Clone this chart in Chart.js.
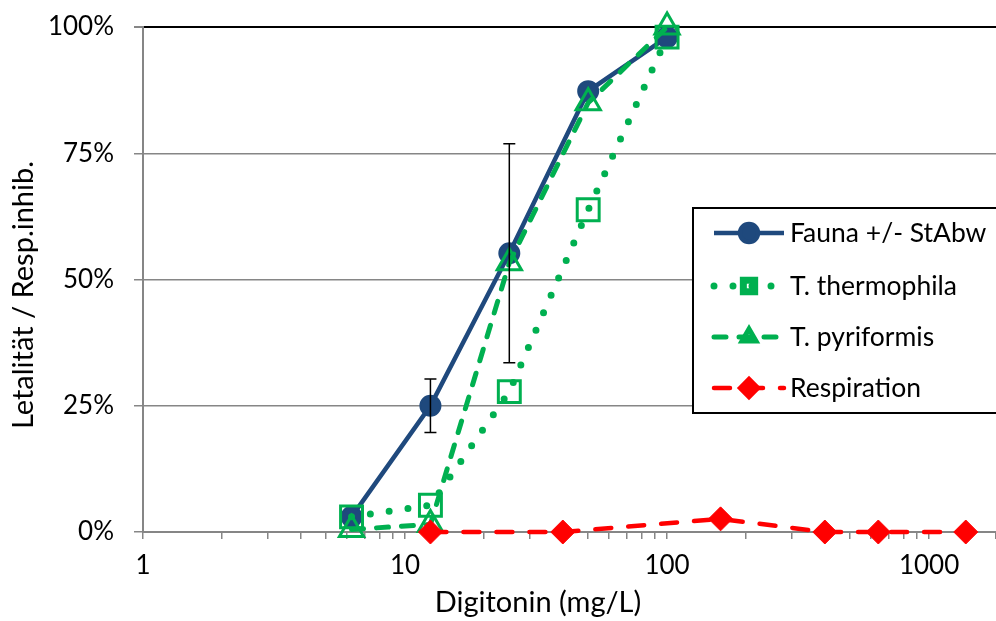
<!DOCTYPE html>
<html>
<head>
<meta charset="utf-8">
<script src="https://cdn.jsdelivr.net/npm/chart.js@4.4.1/dist/chart.umd.min.js"></script>
<style>
  html, body { margin: 0; padding: 0; background: #fff; overflow: hidden; }
</style>
</head>
<body>
<canvas id="digitonin-chart" width="996" height="621"></canvas>
<script>
// Digitonin concentrations (mg/L) and responses (%)
const concTox = [6.25, 12.5, 25, 50, 100];
const faunaMean = [3, 25, 55.2, 87.3, 98];
const faunaSd = [0, 5.3, 21.7, 0, 0];
const thermophila = [3, 5.3, 27.8, 63.8, 98];
const pyriformis = [0.5, 1.5, 53.3, 85, 100];

const concResp = [12.5, 40, 160, 400, 640, 1380];
const respiration = [0, 0, 2.6, 0, 0, 0];

const xLabels = [1, 10, 100, 1000];
const yTicks = [0, 25, 50, 75, 100];

const FONT = 'Lato, "Open Sans", sans-serif';
const NAVY = '#1F497D';
const GREEN = '#00B050';
const RED = '#FF0000';
const GRID = '#868686';
const X_MAX = 1800;

const toPoints = (xs, ys) => xs.map((x, i) => ({ x: x, y: ys[i] }));

// minor log ticks 1..9, 10..90, 100..900, 1000, plus the unlabeled axis end
const xTickValues = [];
for (let d = 1; d <= 100; d *= 10) {
  for (let m = 1; m < 10; m++) xTickValues.push(m * d);
}
xTickValues.push(1000, X_MAX);

const errorBars = {
  id: 'errorBars',
  afterDatasetsDraw(chart) {
    const ctx = chart.ctx;
    const xs = chart.scales.x, ys = chart.scales.y;
    ctx.save();
    ctx.strokeStyle = '#000';
    ctx.lineWidth = 1.5;
    concTox.forEach((c, i) => {
      if (!faunaSd[i]) return;
      const px = xs.getPixelForValue(c);
      const top = ys.getPixelForValue(faunaMean[i] + faunaSd[i]);
      const bot = ys.getPixelForValue(faunaMean[i] - faunaSd[i]);
      ctx.beginPath();
      ctx.moveTo(px, top); ctx.lineTo(px, bot);
      ctx.moveTo(px - 6, top); ctx.lineTo(px + 6, top);
      ctx.moveTo(px - 6, bot); ctx.lineTo(px + 6, bot);
      ctx.stroke();
    });
    ctx.restore();
  }
};

const boxLegend = {
  id: 'boxLegend',
  afterDraw(chart) {
    const ctx = chart.ctx;
    ctx.save();
    // axis titles
    ctx.fillStyle = '#000';
    ctx.font = '29px ' + FONT;
    ctx.textAlign = 'center';
    ctx.textBaseline = 'middle';
    ctx.fillText('Digitonin (mg/L)', 538, 603);
    ctx.save();
    ctx.translate(24, 295);
    ctx.rotate(-Math.PI / 2);
    ctx.fillText('Letalität / Resp.inhib.', 0, 0);
    ctx.restore();

    // legend box
    ctx.fillStyle = '#fff';
    ctx.fillRect(693, 208, 320, 205);
    ctx.strokeStyle = '#000';
    ctx.lineWidth = 2;
    ctx.strokeRect(693, 208, 320, 205);

    const rowY = [233, 286, 337, 388];
    const legendMarkers = [
      { pointStyle: 'circle', radius: 9, fill: NAVY, border: 1 },
      { pointStyle: 'rect', radius: 8, fill: 'rgba(0,0,0,0)', border: 2.5 },
      { pointStyle: 'triangle', radius: 8, fill: 'rgba(0,0,0,0)', border: 2.5 },
      { pointStyle: 'rectRot', radius: 9, fill: RED, border: 1 }
    ];
    chart.data.datasets.forEach((ds, i) => {
      const y = rowY[i];
      ctx.save();
      ctx.strokeStyle = ds.borderColor;
      ctx.lineWidth = ds.borderWidth;
      ctx.lineCap = ds.borderCapStyle || 'butt';
      ctx.setLineDash(ds.borderDash || []);
      ctx.beginPath();
      ctx.moveTo(714, y);
      ctx.lineTo(784, y);
      ctx.stroke();
      ctx.setLineDash([]);
      const m = legendMarkers[i];
      ctx.fillStyle = m.fill;
      ctx.strokeStyle = ds.pointBorderColor;
      Chart.helpers.drawPoint(ctx, {
        pointStyle: m.pointStyle, radius: m.radius, rotation: 0,
        borderWidth: m.border
      }, 749, y);
      ctx.restore();
      ctx.fillStyle = '#000';
      ctx.font = '26.5px ' + FONT;
      ctx.textAlign = 'left';
      ctx.textBaseline = 'middle';
      ctx.fillText(ds.label, 790, y);
    });
    ctx.restore();
  }
};

new Chart(document.getElementById('digitonin-chart'), {
  type: 'line',
  data: {
    datasets: [
      {
        label: 'Fauna +/- StAbw',
        data: toPoints(concTox, faunaMean),
        borderColor: NAVY,
        borderWidth: 4.5,
        pointStyle: 'circle',
        pointRadius: 10,
        pointBackgroundColor: NAVY,
        pointBorderColor: NAVY,
        pointBorderWidth: 2,
        order: 4,
        clip: false
      },
      {
        label: 'T. thermophila',
        data: toPoints(concTox, thermophila),
        borderColor: GREEN,
        borderWidth: 7,
        borderDash: [0, 19],
        borderCapStyle: 'round',
        pointStyle: 'rect',
        pointRadius: 15.5,
        pointBackgroundColor: 'rgba(0,0,0,0)',
        pointBorderColor: GREEN,
        pointBorderWidth: 3,
        order: 3,
        clip: false
      },
      {
        label: 'T. pyriformis',
        data: toPoints(concTox, pyriformis),
        borderColor: GREEN,
        borderWidth: 5,
        borderDash: [12, 13],
        borderCapStyle: 'round',
        pointStyle: 'triangle',
        pointRadius: 14,
        pointBackgroundColor: 'rgba(0,0,0,0)',
        pointBorderColor: GREEN,
        pointBorderWidth: 3,
        order: 2,
        clip: false
      },
      {
        label: 'Respiration',
        data: toPoints(concResp, respiration),
        borderColor: RED,
        borderWidth: 4.5,
        borderDash: [16, 17],
        borderCapStyle: 'round',
        pointStyle: 'rectRot',
        pointRadius: 12,
        pointBackgroundColor: RED,
        pointBorderColor: RED,
        pointBorderWidth: 1,
        order: 1,
        clip: false
      }
    ]
  },
  options: {
    responsive: false,
    animation: false,
    layout: { autoPadding: false, padding: { top: 27, right: 0, left: 0, bottom: 0 } },
    scales: {
      x: {
        type: 'logarithmic',
        min: 1,
        max: X_MAX,
        afterBuildTicks: (scale) => {
          scale.ticks = xTickValues.map(v => ({ value: v }));
        },
        afterFit: (scale) => {
          scale.height = 89;
          scale.paddingLeft = 0;
          scale.paddingRight = 0;
        },
        ticks: {
          autoSkip: false,
          maxRotation: 0,
          padding: 11,
          color: '#000',
          font: { family: FONT, size: 26 },
          callback: (v) => xLabels.includes(v) ? String(v) : ''
        },
        grid: { drawOnChartArea: false, tickLength: 7, color: GRID, lineWidth: 1.5 },
        border: { color: GRID, width: 2 }
      },
      y: {
        min: 0,
        max: 100,
        afterBuildTicks: (scale) => {
          scale.ticks = yTicks.map(v => ({ value: v }));
        },
        afterFit: (scale) => {
          scale.width = 143;
          scale.paddingTop = 0;
          scale.paddingBottom = 0;
        },
        ticks: {
          padding: 20,
          color: '#000',
          font: { family: FONT, size: 26 },
          callback: (v) => v + '%'
        },
        grid: {
          tickLength: 9,
          tickColor: GRID,
          color: (c) => (c.tick && c.tick.value === 100) ? '#000' : GRID,
          lineWidth: (c) => (c.tick && c.tick.value === 100) ? 2 : 1.5
        },
        border: { color: GRID, width: 2 }
      }
    },
    plugins: {
      legend: { display: false },
      tooltip: { enabled: false }
    }
  },
  plugins: [errorBars, boxLegend]
});
</script>
</body>
</html>
